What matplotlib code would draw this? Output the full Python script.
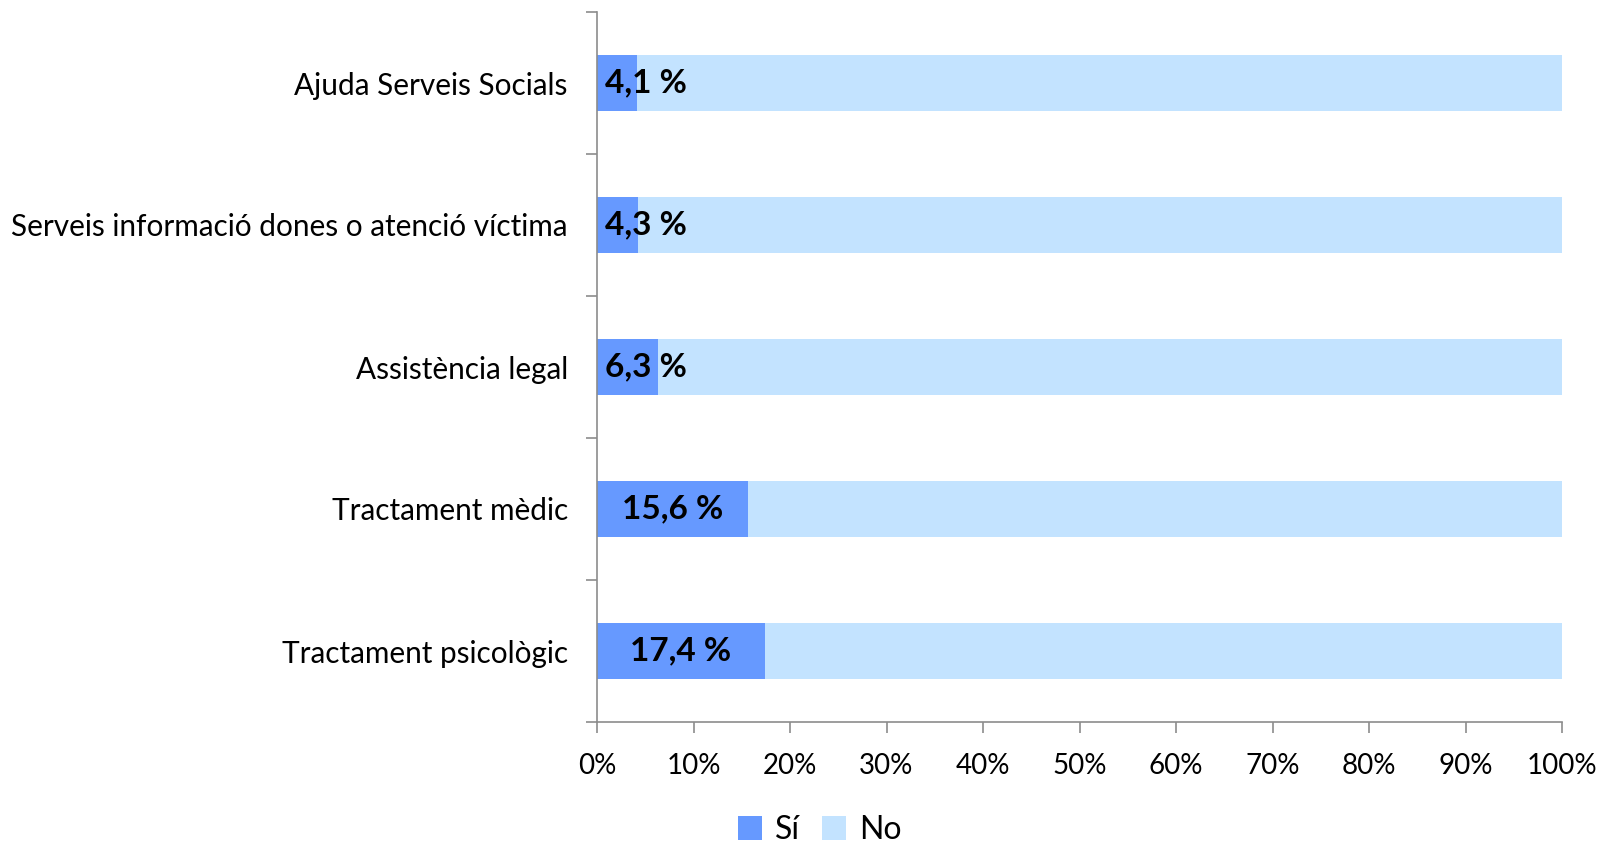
import numpy as np
import matplotlib.pyplot as plt
from matplotlib.ticker import PercentFormatter

plt.rcParams['font.family'] = ['Lato', 'DejaVu Sans']

categories = ['Tractament psicològic', 'Tractament mèdic', 'Assistència legal',
              'Serveis informació dones o atenció víctima', 'Ajuda Serveis Socials']
si = [17.4, 15.6, 6.3, 4.3, 4.1]
no = [100 - v for v in si]
labels = ['17,4 %', '15,6 %', '6,3 %', '4,3 %', '4,1 %']

c_si = '#6699FF'
c_no = '#C3E3FF'
grey = '#8C8C8C'

fig = plt.figure(figsize=(16.02, 8.42), dpi=100)
ax = fig.add_axes([597 / 1602, 1 - 722 / 842, (1562 - 597) / 1602, (722 - 12) / 842])

y = np.arange(len(categories))
ax.barh(y, si, height=0.4, color=c_si, label='Sí')
ax.barh(y, no, left=si, height=0.4, color=c_no, label='No')

# etiquetes de dades (les petites es desplacen perquè càpiguen)
for yi, v, lab in zip(y, si, labels):
    ax.text(max(v / 2, 5.1), yi, lab, ha='center', va='center',
            fontsize=24, fontweight='bold', color='black')

ax.set_xlim(0, 100)
ax.set_ylim(-0.5, len(categories) - 0.5)
ax.set_xticks(np.arange(0, 101, 10))
ax.xaxis.set_major_formatter(PercentFormatter(decimals=0))
ax.set_yticks(y)
ax.set_yticklabels(categories)
ax.set_yticks(np.arange(-0.5, len(categories), 1), minor=True)
ax.tick_params(axis='y', which='major', length=0, pad=21, labelsize=21.4)
ax.tick_params(axis='y', which='minor', length=8, color=grey, width=1.2)
ax.tick_params(axis='x', length=8, color=grey, width=1.2, pad=14, labelsize=20)

for s in ['top', 'right']:
    ax.spines[s].set_visible(False)
for s in ['left', 'bottom']:
    ax.spines[s].set_color(grey)
    ax.spines[s].set_linewidth(1.2)

handles, names = ax.get_legend_handles_labels()
fig.legend(handles, names, loc='center', bbox_to_anchor=(820 / 1602, 1 - 830 / 842),
           bbox_transform=fig.transFigure, ncol=2, frameon=False, borderpad=0,
           fontsize=23, handlelength=0.75, handleheight=0.75, handletextpad=0.4,
           columnspacing=0.7)

fig.savefig('out.png', dpi=100)
